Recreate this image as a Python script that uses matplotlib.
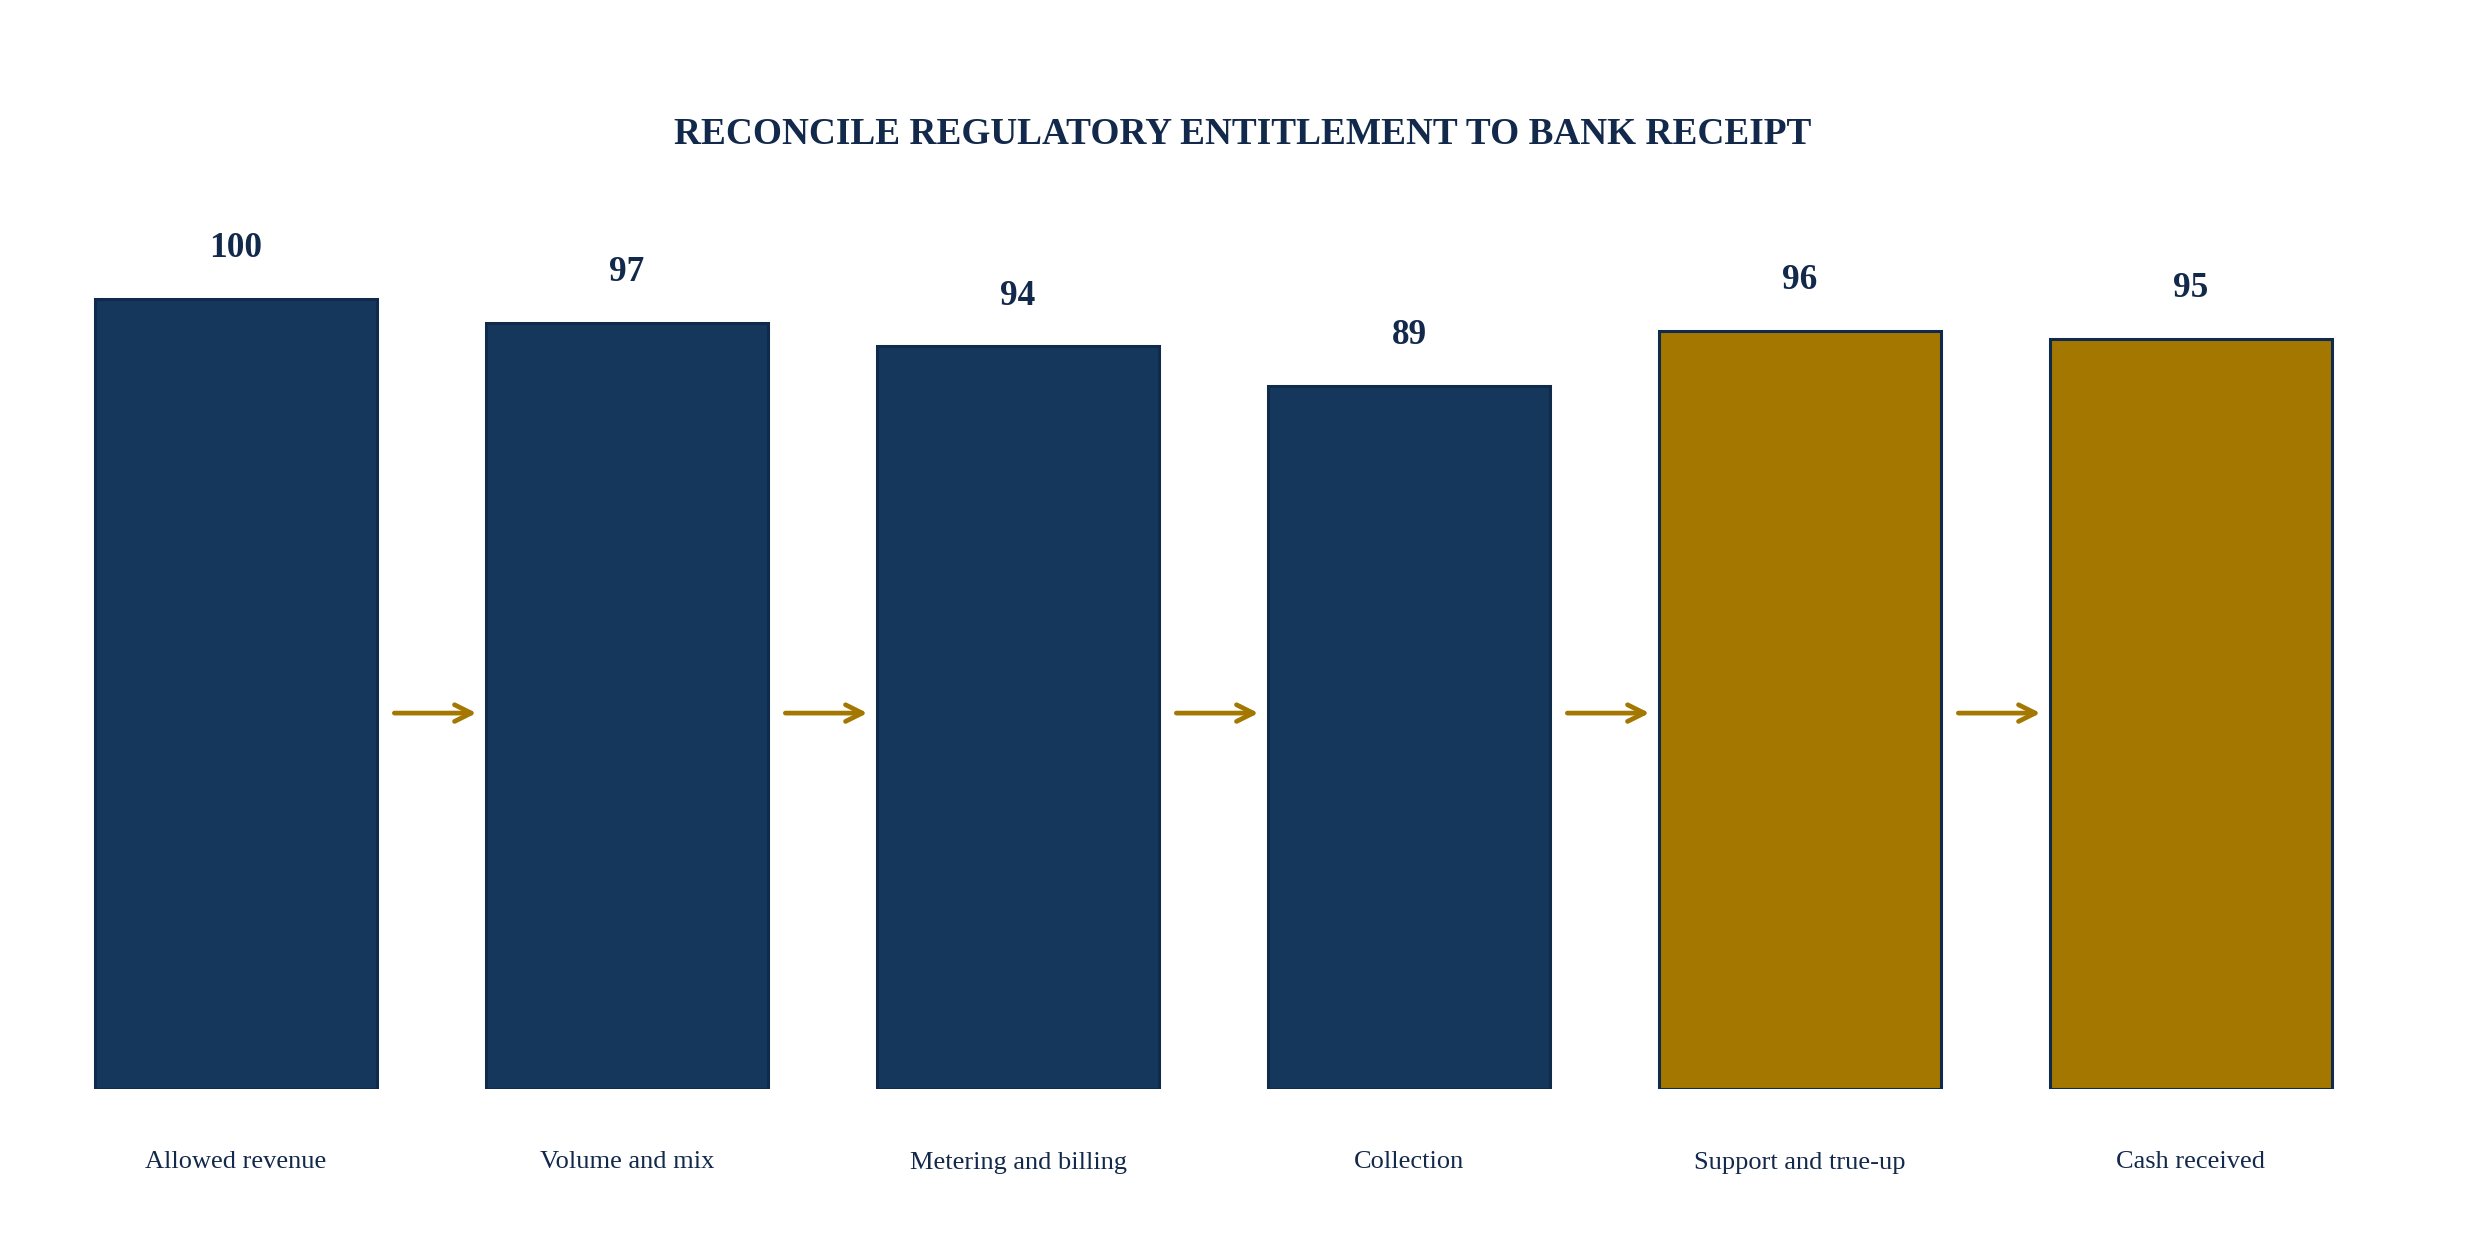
import matplotlib
matplotlib.use("agg")
import matplotlib.pyplot as plt

categories = ["Allowed revenue", "Volume and mix", "Metering and billing",
              "Collection", "Support and true-up", "Cash received"]
values = [100, 97, 94, 89, 96, 95]
is_gold = [False, False, False, False, True, True]

NAVY = "#16375c"
GOLD = "#a37700"
EDGE = "#0f2a4a"
TEXT = "#13294b"

plt.rcParams["font.family"] = ["Liberation Serif", "DejaVu Serif"]

fig = plt.figure(figsize=(12.43, 6.27), dpi=200)
ax = fig.add_axes([40.5 / 2486, 165 / 1254, 2346 / 2486, 908.5 / 1254])

x_values = list(range(len(values)))
colors = [GOLD if g else NAVY for g in is_gold]
ax.bar(x_values, values, width=0.72, color=colors, edgecolor=EDGE, linewidth=1.1)

for x, v in zip(x_values, values):
    ax.annotate(f"{v}", xy=(x, v), xytext=(0, 15), textcoords="offset points",
                ha="center", va="baseline", fontsize=12.7, fontweight="bold", color=TEXT)

# arrows between the bars
arrow_y = sum(values) / len(values) / 2
for x in x_values[:-1]:
    ax.annotate("", xy=(x + 0.615, arrow_y), xytext=(x + 0.405, arrow_y),
                arrowprops=dict(arrowstyle="->", color=GOLD, lw=1.7,
                                mutation_scale=15, shrinkA=0, shrinkB=0))

ax.set_xlim(-0.5, len(values) - 0.5)
ax.set_ylim(0, 115)
ax.set_xticks(x_values)
ax.set_xticklabels(categories, fontsize=9.5, color=TEXT)
ax.tick_params(axis="x", length=0, pad=22.5)
ax.set_yticks([])
for spine in ax.spines.values():
    spine.set_visible(False)

fig.text(0.5, 1 - 134 / 1254, "RECONCILE REGULATORY ENTITLEMENT TO BANK RECEIPT",
         ha="center", va="center", fontsize=13.4, fontweight="bold", color=TEXT)

fig.savefig("out.png", dpi=200, facecolor="white")
plt.close(fig)
